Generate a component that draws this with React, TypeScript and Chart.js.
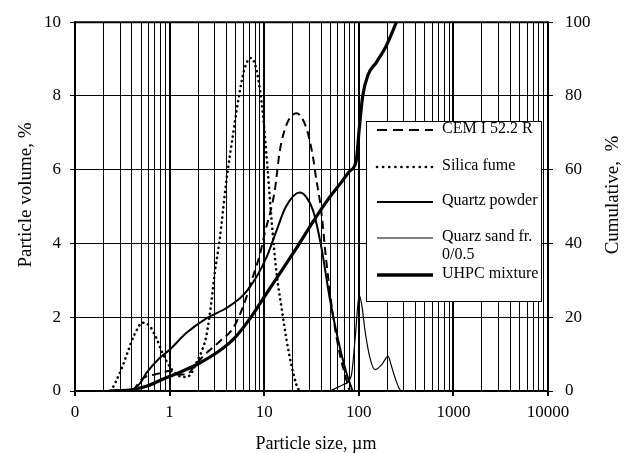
import React, { useEffect, useRef } from "react";
import { Chart, registerables } from "chart.js";

Chart.register(...registerables);

const FONT = '"Liberation Serif", "Times New Roman", serif';

// x-axis (log) major ticks and their labels
const xTickValues = [0.1, 1, 10, 100, 1000, 10000];
const xTickLabels = ["0", "1", "10", "100", "1000", "10000"];

// CEM I 52.2 R (particle volume, %)
const cemX = [0.41, 0.5, 0.57, 0.7, 0.85, 1.0, 1.2, 1.5, 1.92, 2.5, 3.4, 4.68, 6.0, 7.6, 9.0, 10.1, 12.9, 14.6, 17.2, 21.9, 27.9, 32.9, 35, 40, 45, 53, 63, 74, 80];
const cemY = [0, 0.3, 0.4, 0.45, 0.5, 0.55, 0.45, 0.45, 0.75, 1.05, 1.35, 1.7, 2.3, 3.1, 3.7, 4.26, 5.42, 6.5, 7.22, 7.53, 7.13, 6.32, 5.85, 4.9, 3.6, 2.1, 1.0, 0.3, 0];

// Silica fume
const sfX = [0.24, 0.27, 0.31, 0.36, 0.42, 0.52, 0.62, 0.72, 0.85, 1.0, 1.18, 1.4, 1.63, 1.92, 2.2, 2.45, 2.76, 3.0, 3.38, 3.98, 4.68, 5.5, 6.2, 7.2, 8.3, 9.7, 10.8, 12.0, 13.5, 15.2, 17.2, 19.4, 21.9, 23.5];
const sfY = [0, 0.25, 0.6, 1.05, 1.5, 1.85, 1.75, 1.45, 1.0, 0.67, 0.45, 0.38, 0.42, 0.77, 1.1, 1.5, 2.4, 3.2, 4.1, 5.69, 6.95, 8.1, 8.74, 9.03, 8.7, 7.5, 6.1, 4.6, 3.2, 2.28, 1.39, 0.7, 0.17, 0];

// Quartz powder
const qpX = [0.41, 0.5, 0.57, 0.78, 1.0, 1.5, 2.45, 3.98, 6.0, 8.3, 10.6, 13.5, 17, 23.7, 28, 32.9, 40.2, 49, 60.4, 74, 86];
const qpY = [0, 0.25, 0.49, 0.89, 1.12, 1.57, 1.97, 2.25, 2.6, 3.1, 3.63, 4.35, 5.0, 5.38, 5.25, 4.89, 3.9, 2.55, 1.39, 0.49, 0];

// Quarz sand fr. 0/0.5
const qsX = [50, 68, 83, 92, 101, 108, 116, 130, 148, 174, 204, 220, 232, 271, 290];
const qsY = [0, 0.17, 0.4, 1.5, 2.6, 2.3, 1.66, 0.94, 0.58, 0.71, 0.94, 0.7, 0.5, 0.04, 0];

// UHPC mixture (cumulative, %)
const uhX = [0.23, 0.41, 0.6, 0.92, 1.4, 2.08, 3.2, 4.68, 7.0, 10.6, 15.8, 23.7, 33, 49, 65, 80, 94, 101, 110, 125, 154, 196, 250];
const uhY = [0, 0.4, 1.5, 3.6, 5.5, 7.6, 10.5, 13.9, 19.5, 26.5, 33.2, 40.1, 46, 52.5, 56.5, 59.6, 62.5, 71, 80, 85.7, 89.2, 93.7, 100];

const seriesNames = ["CEM I 52.2 R", "Silica fume", "Quartz powder", "Quarz sand fr. 0/0.5", "UHPC mixture"];
const legendLines = [["CEM I 52.2 R"], ["Silica fume"], ["Quartz powder"], ["Quarz sand fr.", "0/0.5"], ["UHPC mixture"]];

const xTitle = "Particle size, \u00b5m";
const yTitle = "Particle volume, %";
const y2Title = "Cumulative,  %";

const pts = (xs: number[], ys: number[]) => xs.map((x, i) => ({ x, y: ys[i] }));

export default function App() {
  const ref = useRef<HTMLCanvasElement>(null);

  useEffect(() => {
    document.body.style.margin = "0";
    const canvas = ref.current!;

    const isMajor = (v: number) => xTickValues.some((t) => Math.abs(t - v) / t < 1e-6);
    const gridVals: number[] = [];
    for (let k = -1; k <= 3; k++) {
      for (let m = 1; m <= 9; m++) gridVals.push(Number((m * Math.pow(10, k)).toPrecision(3)));
    }
    gridVals.push(10000);

    const styles = [
      { borderWidth: 2, borderDash: [8, 5], borderCapStyle: "butt" },
      { borderWidth: 2.6, borderDash: [0.1, 5], borderCapStyle: "round" },
      { borderWidth: 2, borderDash: [], borderCapStyle: "butt" },
      { borderWidth: 1.2, borderDash: [], borderCapStyle: "butt" },
      { borderWidth: 3.2, borderDash: [], borderCapStyle: "butt" },
    ];
    const data = [pts(cemX, cemY), pts(sfX, sfY), pts(qpX, qpY), pts(qsX, qsY), pts(uhX, uhY)];

    const datasets = data.map((d, i) => ({
      label: seriesNames[i],
      data: d,
      borderColor: "#000",
      backgroundColor: "#000",
      pointRadius: 0,
      fill: false,
      cubicInterpolationMode: "monotone" as const,
      yAxisID: i === 4 ? "y2" : "y",
      ...styles[i],
    }));

    const framePlugin = {
      id: "frame",
      beforeDatasetsDraw(chart: any) {
        const { ctx, chartArea: a } = chart;
        ctx.save();
        ctx.strokeStyle = "#000";
        ctx.lineWidth = 2;
        ctx.beginPath();
        ctx.moveTo(a.left, a.top);
        ctx.lineTo(a.right, a.top);
        ctx.stroke();
        ctx.restore();
      },
    };

    const legendPlugin = {
      id: "customLegend",
      afterDatasetsDraw(chart: any) {
        const { ctx } = chart;
        const bx = 366.5, by = 121.5, bw = 175, bh = 180;
        ctx.save();
        ctx.fillStyle = "#fff";
        ctx.fillRect(bx, by, bw, bh);
        ctx.strokeStyle = "#000";
        ctx.lineWidth = 1;
        ctx.strokeRect(bx, by, bw, bh);
        const rowY = [129, 166, 201, 237, 274];
        ctx.font = `16px ${FONT}`;
        ctx.textBaseline = "middle";
        ctx.textAlign = "left";
        legendLines.forEach((lines, i) => {
          const st = styles[i];
          ctx.save();
          ctx.strokeStyle = "#000";
          ctx.lineWidth = i === 4 ? 3.5 : st.borderWidth;
          ctx.setLineDash(i === 0 ? [10, 6] : i === 1 ? [0.1, 6] : []);
          ctx.lineCap = st.borderCapStyle as CanvasLineCap;
          ctx.beginPath();
          ctx.moveTo(377, rowY[i] + 1);
          ctx.lineTo(433, rowY[i] + 1);
          ctx.stroke();
          ctx.restore();
          ctx.fillStyle = "#000";
          lines.forEach((t, j) => ctx.fillText(t, 442, rowY[i] + j * 18));
        });
        ctx.restore();
      },
    };

    const titlePlugin = {
      id: "titles",
      afterDraw(chart: any) {
        const { ctx } = chart;
        ctx.save();
        ctx.fillStyle = "#000";
        ctx.textAlign = "center";
        ctx.textBaseline = "middle";
        ctx.font = `18px ${FONT}`;
        ctx.fillText(xTitle, 316, 444);
        ctx.font = `19px ${FONT}`;
        ctx.save();
        ctx.translate(26, 195);
        ctx.rotate(-Math.PI / 2);
        ctx.fillText(yTitle, 0, 0);
        ctx.restore();
        ctx.save();
        ctx.translate(613, 195);
        ctx.rotate(-Math.PI / 2);
        ctx.fillText(y2Title, 0, 0);
        ctx.restore();
        ctx.restore();
      },
    };

    const tickFont = { family: FONT, size: 17 };

    const chart = new Chart(canvas, {
      type: "line",
      data: { datasets: datasets as any },
      options: {
        responsive: false,
        animation: false,
        layout: { padding: { top: 20, left: 0, right: 0, bottom: 0 } },
        plugins: { legend: { display: false }, tooltip: { enabled: false } },
        scales: {
          x: {
            type: "logarithmic",
            min: 0.1,
            max: 10000,
            afterBuildTicks: (s: any) => {
              s.ticks = gridVals.map((v) => ({ value: v }));
            },
            afterFit: (s: any) => {
              s.height = 62;
            },
            ticks: {
              autoSkip: false,
              maxRotation: 0,
              minRotation: 0,
              padding: 6,
              color: "#000",
              font: tickFont,
              callback: (v: any) => {
                const i = xTickValues.findIndex((t) => Math.abs(t - Number(v)) / t < 1e-6);
                return i >= 0 ? xTickLabels[i] : "";
              },
            },
            grid: {
              color: "#000",
              lineWidth: (c: any) => (c.tick && isMajor(c.tick.value) ? 2 : 1),
              tickLength: 5,
              tickColor: (c: any) => (c.tick && isMajor(c.tick.value) ? "#000" : "rgba(0,0,0,0)"),
            },
            border: { display: true, color: "#000", width: 1.5 },
          },
          y: {
            position: "left",
            min: 0,
            max: 10,
            afterFit: (s: any) => {
              s.width = 75;
            },
            ticks: { stepSize: 2, padding: 9, color: "#000", font: tickFont },
            grid: { color: "#000", lineWidth: 1, tickLength: 5 },
            border: { display: true, color: "#000", width: 1.5 },
          },
          y2: {
            position: "right",
            min: 0,
            max: 100,
            afterFit: (s: any) => {
              s.width = 84;
            },
            ticks: { stepSize: 20, padding: 12, color: "#000", font: tickFont },
            grid: { drawOnChartArea: false, color: "#000", lineWidth: 1, tickLength: 5 },
            border: { display: true, color: "#000", width: 1.5 },
          },
        },
      } as any,
      plugins: [framePlugin, legendPlugin, titlePlugin],
    });

    return () => chart.destroy();
  }, []);

  return (
    <div style={{ width: 632, height: 453, background: "#fff" }}>
      <canvas ref={ref} width={632} height={453} style={{ display: "block" }} />
    </div>
  );
}
